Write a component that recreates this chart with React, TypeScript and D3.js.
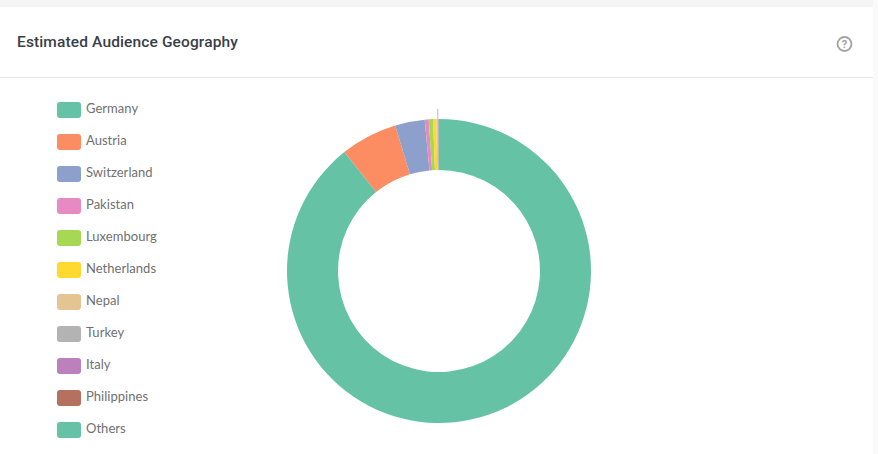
import React from "react";
import * as d3 from "d3";

const countries = [
  "Germany",
  "Austria",
  "Switzerland",
  "Pakistan",
  "Luxembourg",
  "Netherlands",
  "Nepal",
  "Turkey",
  "Italy",
  "Philippines",
  "Others",
];
const shares = [89.3, 6.05, 3.15, 0.42, 0.45, 0.35, 0.14, 0.04, 0.04, 0.03, 0.03];
const colors = [
  "#66c2a5",
  "#fc8d62",
  "#8da0cb",
  "#e78ac3",
  "#a6d854",
  "#ffd92f",
  "#e5c494",
  "#b3b3b3",
  "#bc80bd",
  "#b5705f",
  "#66c2a5",
];

const width = 878;
const height = 454;
const cx = 439;
const cy = 271;
const outerR = 152;
const innerR = 101;

const App: React.FC = () => {
  const pie = d3
    .pie<number>()
    .sort(null)
    .value((d) => d);
  const slices = pie(shares);
  const arc = d3.arc<d3.PieArcDatum<number>>().innerRadius(innerR).outerRadius(outerR);

  const legendY = d3
    .scalePoint<string>()
    .domain(countries)
    .range([110, 430]);

  // trait fin au-dessus des plus petites parts
  const tiny = slices[7];
  const tinyAngle = (tiny.startAngle + tiny.endAngle) / 2;
  const leader = d3.lineRadial<number>().angle(tinyAngle).radius((d) => d);

  return (
    <svg
      width={width}
      height={height}
      style={{ position: "absolute", left: 0, top: 0, background: "#fff" }}
    >
      <rect x={0} y={0} width={width} height={7} fill="#f5f5f5" />
      <rect x={873} y={0} width={5} height={height} fill="#fafafa" />
      <line x1={0} x2={873} y1={77.5} y2={77.5} stroke="#e6e6e6" />
      <text
        x={17}
        y={47}
        fontFamily="Roboto, sans-serif"
        fontWeight={500}
        fontSize={15.5}
        letterSpacing={0.13}
        fill="#3a3f47"
      >
        Estimated Audience Geography
      </text>

      <g transform="translate(844.5,44)" fill="none" stroke="#a3a3a3">
        <circle r={7} strokeWidth={1.8} />
        <text
          y={4}
          textAnchor="middle"
          fontFamily="Roboto, sans-serif"
          fontWeight={700}
          fontSize={11}
          fill="#a3a3a3"
          stroke="none"
        >
          ?
        </text>
      </g>

      {countries.map((c, i) => (
        <g key={c} transform={`translate(57,${legendY(c)})`}>
          <rect x={0} y={-8} width={24} height={16} rx={3} fill={colors[i]} />
          <text
            x={29}
            y={2.8}
            fontFamily="Lato, sans-serif"
            fontSize={13}
            letterSpacing={0.03}
            fill="#707070"
          >
            {c}
          </text>
        </g>
      ))}

      <g transform={`translate(${cx},${cy})`}>
        {slices.map((s, i) => (
          <path key={countries[i]} d={arc(s) ?? ""} fill={colors[i]} />
        ))}
        <path d={leader([outerR, outerR + 10]) ?? ""} stroke="#c9b8b0" strokeWidth={1} fill="none" />
      </g>
    </svg>
  );
};

export default App;
